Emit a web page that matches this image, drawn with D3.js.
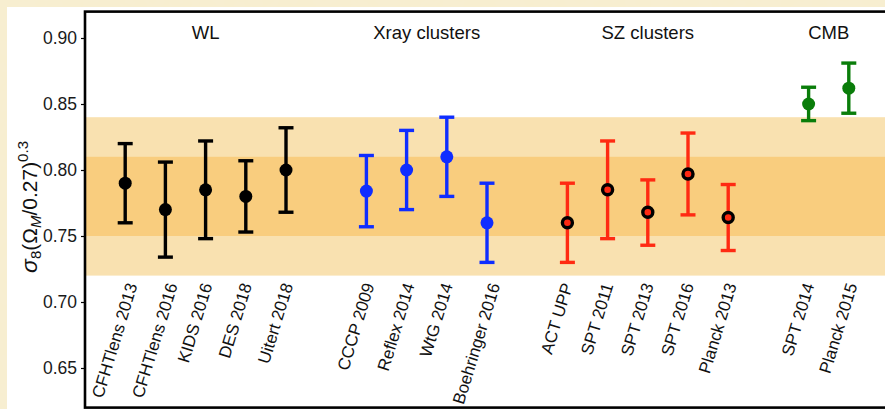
<!DOCTYPE html>
<html>
<head>
<meta charset="UTF-8">
<title>sigma8 comparison</title>
<style>
  html, body { margin: 0; padding: 0; background: #f6ecca; }
  svg { display: block; font-family: "Liberation Sans", Arial, sans-serif; }
  .y-axis text { font-size: 17.5px; fill: #1a1a1a; }
  .y-axis line { stroke: #000; stroke-width: 1.2; }
</style>
</head>
<body>
<div id="chart"></div>
<script src="https://d3js.org/d3.v7.min.js"></script>
<script>
var w = 885, h = 409;

var names = ["CFHTlens 2013", "CFHTlens 2016", "KIDS 2016", "DES 2018", "Uitert 2018",
             "CCCP 2009", "Reflex 2014", "WtG 2014", "Boehringer 2016",
             "ACT UPP", "SPT 2011", "SPT 2013", "SPT 2016", "Planck 2013",
             "SPT 2014", "Planck 2015"];
var slots = [0, 1, 2, 3, 4, 6, 7, 8, 9, 11, 12, 13, 14, 15, 17, 18];
var centers = [0.790, 0.770, 0.785, 0.780, 0.800,
               0.784, 0.800, 0.810, 0.760,
               0.760, 0.785, 0.768, 0.797, 0.764,
               0.850, 0.862];
var upper = [0.820, 0.806, 0.822, 0.807, 0.832,
             0.811, 0.830, 0.840, 0.790,
             0.790, 0.822, 0.7925, 0.828, 0.789,
             0.8627, 0.881];
var lower = [0.760, 0.734, 0.748, 0.753, 0.768,
             0.757, 0.770, 0.780, 0.730,
             0.730, 0.748, 0.743, 0.766, 0.739,
             0.8374, 0.843];
var groupOf = [0, 0, 0, 0, 0, 1, 1, 1, 1, 2, 2, 2, 2, 2, 3, 3];

var groupNames = ["WL", "Xray clusters", "SZ clusters", "CMB"];
var groupCenters = [2, 7.5, 13, 17.5];
var groupColors = ["#000000", "#0f2dff", "#ff2a12", "#0a7d0a"];

var yTicks = [0.65, 0.70, 0.75, 0.80, 0.85, 0.90];
var outerBand = [0.72, 0.84];
var innerBand = [0.75, 0.81];

var svg = d3.select("#chart").append("svg")
  .attr("width", w)
  .attr("height", h);

/* parchment background with a soft texture */
var defs = svg.append("defs");
var filt = defs.append("filter").attr("id", "paper")
  .attr("x", 0).attr("y", 0).attr("width", "100%").attr("height", "100%");
filt.append("feTurbulence").attr("type", "fractalNoise")
  .attr("baseFrequency", 0.08).attr("numOctaves", 3).attr("seed", 4).attr("result", "n");
filt.append("feColorMatrix").attr("type", "matrix")
  .attr("values", "0 0 0 0 0.93  0 0 0 0 0.86  0 0 0 0 0.68  0 0 0 0.35 0").attr("in", "n");

svg.append("rect").attr("width", w).attr("height", h).attr("fill", "#f7eecf");
svg.append("rect").attr("width", w).attr("height", h).attr("filter", "url(#paper)");

/* white figure area */
svg.append("rect")
  .attr("x", 7).attr("y", 7)
  .attr("width", w).attr("height", h)
  .attr("fill", "#ffffff");

var x = d3.scaleLinear().domain([-1, 19]).range([85, 889]);
var y = d3.scaleLinear().domain([0.62, 0.92]).range([407.6, 11.6]);

var plot = svg.append("g");

/* bands */
plot.append("rect")
  .attr("x", x(-1)).attr("width", x(19) - x(-1))
  .attr("y", y(outerBand[1])).attr("height", y(outerBand[0]) - y(outerBand[1]))
  .attr("fill", "#f9e1b0");
plot.append("rect")
  .attr("x", x(-1)).attr("width", x(19) - x(-1))
  .attr("y", y(innerBand[1])).attr("height", y(innerBand[0]) - y(innerBand[1]))
  .attr("fill", "#f9cd7e");

/* y axis */
var yAxis = d3.axisLeft(y).tickValues(yTicks).tickFormat(d3.format(".2f"))
  .tickSize(4).tickPadding(4);
var ya = svg.append("g").attr("class", "y-axis")
  .attr("transform", "translate(" + x(-1) + ",0)")
  .call(yAxis);
ya.select(".domain").remove();

/* frame */
svg.append("rect")
  .attr("x", x(-1)).attr("y", y(0.92))
  .attr("width", x(19) - x(-1)).attr("height", y(0.62) - y(0.92))
  .attr("fill", "none").attr("stroke", "#000").attr("stroke-width", 2.6);

/* error bars */
var idx = d3.range(names.length);
var bars = plot.selectAll("g.bar").data(idx).enter().append("g").attr("class", "bar");
bars.append("line")
  .attr("x1", function(i) { return x(slots[i]); })
  .attr("x2", function(i) { return x(slots[i]); })
  .attr("y1", function(i) { return y(upper[i]); })
  .attr("y2", function(i) { return y(lower[i]); })
  .attr("stroke", function(i) { return groupColors[groupOf[i]]; })
  .attr("stroke-width", 3.4);
[upper, lower].forEach(function(arr) {
  bars.append("line")
    .attr("x1", function(i) { return x(slots[i]) - 7.5; })
    .attr("x2", function(i) { return x(slots[i]) + 7.5; })
    .attr("y1", function(i) { return y(arr[i]); })
    .attr("y2", function(i) { return y(arr[i]); })
    .attr("stroke", function(i) { return groupColors[groupOf[i]]; })
    .attr("stroke-width", 3.4);
});
bars.append("circle")
  .attr("cx", function(i) { return x(slots[i]); })
  .attr("cy", function(i) { return y(centers[i]); })
  .attr("r", function(i) { return groupOf[i] == 2 ? 5 : 6.5; })
  .attr("fill", function(i) { return groupColors[groupOf[i]]; })
  .attr("stroke", function(i) { return groupOf[i] == 2 ? "#000" : "none"; })
  .attr("stroke-width", 3.4);

/* rotated point labels: tops aligned, rotated box centred a bit left of the tick */
var angle = 73, rad = angle * Math.PI / 180;
var labels = plot.selectAll("text.name").data(idx).enter().append("text")
  .attr("class", "name")
  .attr("text-anchor", "end")
  .attr("font-size", "17px")
  .attr("fill", "#111")
  .text(function(i) { return names[i]; });
labels.attr("transform", function(i) {
  var len = this.getComputedTextLength();
  var ex = x(slots[i]) - 5 + len * Math.cos(rad) / 2;
  var ey = y(0.7155) + 12.2 * Math.cos(rad);
  return "translate(" + ex + "," + ey + ") rotate(" + (-angle) + ")";
});

/* group titles */
svg.selectAll("text.group").data(groupNames).enter().append("text")
  .attr("class", "group")
  .attr("x", function(d, i) { return x(groupCenters[i]); })
  .attr("y", 38.5)
  .attr("text-anchor", "middle")
  .attr("font-size", "18.5px")
  .attr("fill", "#111")
  .text(function(d) { return d; });

/* y label: sigma_8 (Omega_M / 0.27)^0.3 */
var yl = svg.append("text")
  .attr("transform", "translate(37,207) rotate(-90)")
  .attr("text-anchor", "middle")
  .attr("font-size", "21px")
  .attr("fill", "#111");
yl.append("tspan").attr("font-style", "italic").attr("font-size", "23px").text("σ");
yl.append("tspan").attr("font-size", "15px").attr("dy", 4).text("8");
yl.append("tspan").attr("dy", -4).text("(Ω");
yl.append("tspan").attr("font-size", "15px").attr("font-style", "italic").attr("dy", 4).text("M");
yl.append("tspan").attr("dy", -4).text("/0.27)");
yl.append("tspan").attr("font-size", "15px").attr("dy", -9).text("0.3");
</script>
</body>
</html>
